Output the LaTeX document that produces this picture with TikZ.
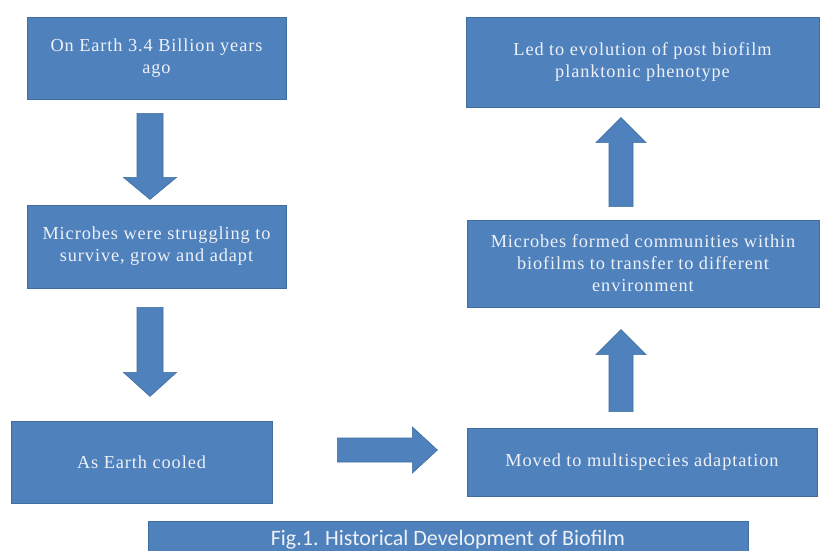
\documentclass[tikz,border=0pt]{standalone}
\usepackage{fontspec}
\setmainfont{Liberation Serif}
\newfontfamily\boxfont{Liberation Serif}[LetterSpace=5]
\newfontfamily\capfont{Carlito}
\usetikzlibrary{calc}

\definecolor{boxblue}{HTML}{4F81BD}
\definecolor{boxedge}{HTML}{3F6E9F}
\definecolor{boxtext}{HTML}{EEF1F6}

\tikzset{
  stage/.style={draw=boxedge, line width=0.8pt, fill=boxblue, text=boxtext,
    align=center, inner sep=4pt, font=\boxfont\fontsize{18.3}{22}\selectfont},
  captionbox/.style={draw=boxedge, line width=0.8pt, fill=boxblue, text=boxtext,
    align=center, font=\capfont\fontsize{22}{24}\selectfont},
  % block arrow pointing along +x: length, head length, shaft half width, head half width
  pics/blockarrow/.style n args={4}{code={
    \filldraw[fill=boxblue, draw=boxedge, line width=0.6pt]
      (0,-#3) -- ({#1-#2},-#3) -- ({#1-#2},-#4) -- (#1,0)
      -- ({#1-#2},#4) -- ({#1-#2},#3) -- (0,#3) -- cycle;
  }},
}

\begin{document}
\begin{tikzpicture}[x=1pt, y=-1pt]
  \clip (0,0) rectangle (820,551);
  \fill[white] (0,0) rectangle (820,551);

  % left column
  \node[stage, minimum width=259pt, minimum height=82pt] (earth) at (156.5,58)
    {On Earth 3.4 Billion years\\ago};
  \node[stage, minimum width=259pt, minimum height=83pt] (struggle) at (156.5,246.5)
    {Microbes were struggling to\\survive, grow and adapt};
  \node[stage, minimum width=261pt, minimum height=82pt] (cooled) at (141.5,462)
    {As Earth cooled};

  % right column
  \node[stage, minimum width=350pt, minimum height=68pt] (multi) at (642,462)
    {Moved to multispecies adaptation};
  \node[stage, minimum width=352pt, minimum height=87pt] (communities) at (643,263.5)
    {Microbes formed communities within\\biofilms to transfer to different\\environment};
  \node[stage, minimum width=353pt, minimum height=90pt] (plank) at (642.5,62)
    {Led to evolution of post biofilm\\planktonic phenotype};

  % caption
  \node[captionbox, minimum width=600pt, minimum height=38pt] (caption) at (448,540)
    {Fig.1. Historical Development of Biofilm};

  % block arrows between the stages
  \pic[rotate=-90] at ($(earth.south)+(-6.5,14)$) {blockarrow={86}{22}{13}{26.5}};
  \pic[rotate=-90] at ($(struggle.south)+(-6.5,19)$) {blockarrow={89}{24}{13}{26.5}};
  \pic at ($(cooled.east)+(65,-12)$) {blockarrow={100}{25}{12}{23}};
  \pic[rotate=90] at ($(multi.north)+(-21,-16)$) {blockarrow={82}{25}{12}{25}};
  \pic[rotate=90] at ($(communities.north)+(-22,-13)$) {blockarrow={89}{25}{12}{25}};
\end{tikzpicture}
\end{document}
